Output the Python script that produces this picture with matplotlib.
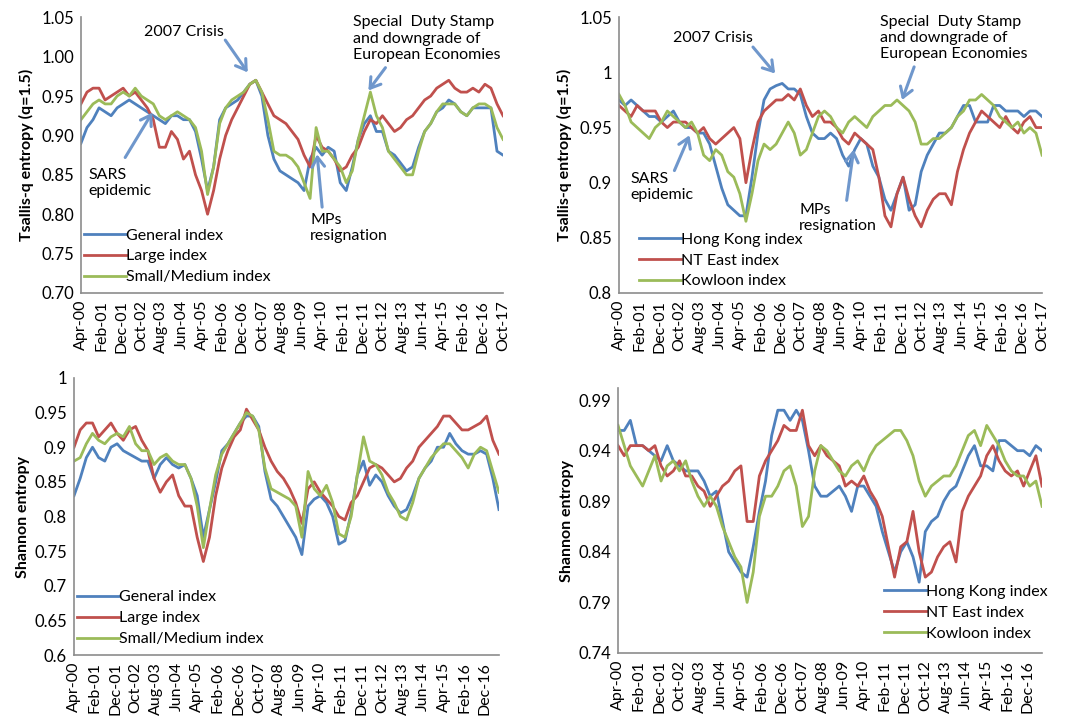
import numpy as np
import matplotlib
matplotlib.use("Agg")
import matplotlib.pyplot as plt
from matplotlib.ticker import FixedLocator, FuncFormatter

plt.rcParams['font.family'] = ['Lato', 'DejaVu Sans']

# months since Apr-2000, sampled every 3 months
months_top = np.arange(0, 211, 3)
months_bot = np.arange(0, 208, 3)

tick_pos = np.arange(0, 211, 10)
tick_labels = ['Apr-00', 'Feb-01', 'Dec-01', 'Oct-02', 'Aug-03', 'Jun-04', 'Apr-05',
               'Feb-06', 'Dec-06', 'Oct-07', 'Aug-08', 'Jun-09', 'Apr-10', 'Feb-11',
               'Dec-11', 'Oct-12', 'Aug-13', 'Jun-14', 'Apr-15', 'Feb-16', 'Dec-16', 'Oct-17']

# Tsallis-q entropy, territory-size indices
tsallis_general = [0.890, 0.910, 0.920, 0.935, 0.930, 0.925, 0.935, 0.940, 0.945, 0.940,
                   0.935, 0.930, 0.925, 0.920, 0.915, 0.925, 0.925, 0.920, 0.920, 0.905,
                   0.870, 0.830, 0.860, 0.920, 0.935, 0.940, 0.945, 0.955, 0.965, 0.970,
                   0.950, 0.900, 0.870, 0.855, 0.850, 0.845, 0.840, 0.830, 0.870, 0.885,
                   0.875, 0.885, 0.880, 0.840, 0.830, 0.860, 0.895, 0.915, 0.925, 0.905,
                   0.905, 0.880, 0.875, 0.865, 0.855, 0.860, 0.885, 0.905, 0.915, 0.930,
                   0.935, 0.945, 0.940, 0.930, 0.925, 0.935, 0.935, 0.935, 0.935, 0.880,
                   0.875]
tsallis_large = [0.940, 0.955, 0.960, 0.960, 0.945, 0.950, 0.955, 0.960, 0.950, 0.955,
                 0.945, 0.935, 0.920, 0.885, 0.885, 0.905, 0.895, 0.870, 0.880, 0.850,
                 0.830, 0.800, 0.830, 0.870, 0.900, 0.920, 0.935, 0.950, 0.965, 0.970,
                 0.955, 0.940, 0.925, 0.920, 0.915, 0.905, 0.895, 0.875, 0.860, 0.900,
                 0.885, 0.880, 0.870, 0.855, 0.860, 0.875, 0.885, 0.905, 0.920, 0.915,
                 0.925, 0.915, 0.905, 0.910, 0.920, 0.925, 0.935, 0.945, 0.950, 0.960,
                 0.965, 0.970, 0.960, 0.955, 0.955, 0.960, 0.955, 0.965, 0.960, 0.940,
                 0.925]
tsallis_small = [0.920, 0.930, 0.940, 0.945, 0.940, 0.940, 0.950, 0.955, 0.950, 0.960,
                 0.950, 0.945, 0.940, 0.925, 0.920, 0.925, 0.930, 0.925, 0.920, 0.910,
                 0.880, 0.825, 0.860, 0.915, 0.935, 0.945, 0.950, 0.955, 0.965, 0.970,
                 0.955, 0.920, 0.880, 0.875, 0.875, 0.870, 0.860, 0.840, 0.820, 0.910,
                 0.880, 0.880, 0.870, 0.860, 0.840, 0.855, 0.895, 0.925, 0.955, 0.925,
                 0.910, 0.880, 0.870, 0.860, 0.850, 0.850, 0.880, 0.905, 0.915, 0.930,
                 0.940, 0.940, 0.940, 0.930, 0.925, 0.935, 0.940, 0.940, 0.935, 0.910,
                 0.895]

# Tsallis-q entropy, regional indices
tsallis_hk = [0.975, 0.970, 0.975, 0.970, 0.965, 0.960, 0.960, 0.955, 0.960, 0.965,
              0.955, 0.950, 0.950, 0.945, 0.945, 0.935, 0.915, 0.895, 0.880, 0.875,
              0.870, 0.870, 0.905, 0.945, 0.975, 0.985, 0.988, 0.990, 0.985, 0.985,
              0.980, 0.960, 0.945, 0.940, 0.940, 0.945, 0.940, 0.925, 0.915, 0.930,
              0.940, 0.935, 0.915, 0.905, 0.885, 0.875, 0.890, 0.905, 0.875, 0.880,
              0.910, 0.925, 0.935, 0.945, 0.945, 0.950, 0.960, 0.970, 0.970, 0.955,
              0.955, 0.955, 0.970, 0.970, 0.965, 0.965, 0.965, 0.960, 0.965, 0.965,
              0.960]
tsallis_nte = [0.970, 0.965, 0.960, 0.970, 0.965, 0.965, 0.965, 0.955, 0.950, 0.955,
               0.955, 0.955, 0.950, 0.945, 0.950, 0.940, 0.935, 0.940, 0.945, 0.950,
               0.940, 0.900, 0.930, 0.955, 0.965, 0.970, 0.975, 0.975, 0.980, 0.975,
               0.985, 0.970, 0.960, 0.965, 0.955, 0.955, 0.950, 0.940, 0.935, 0.945,
               0.940, 0.935, 0.930, 0.905, 0.870, 0.860, 0.890, 0.905, 0.885, 0.870,
               0.860, 0.875, 0.885, 0.890, 0.890, 0.880, 0.910, 0.930, 0.945, 0.955,
               0.965, 0.960, 0.955, 0.950, 0.960, 0.950, 0.945, 0.955, 0.960, 0.950,
               0.950]
tsallis_kln = [0.980, 0.970, 0.955, 0.950, 0.945, 0.940, 0.950, 0.955, 0.965, 0.960,
               0.955, 0.950, 0.955, 0.945, 0.925, 0.920, 0.930, 0.925, 0.910, 0.905,
               0.890, 0.865, 0.890, 0.920, 0.935, 0.930, 0.935, 0.945, 0.955, 0.945,
               0.925, 0.930, 0.945, 0.960, 0.965, 0.960, 0.950, 0.945, 0.955, 0.960,
               0.955, 0.950, 0.960, 0.965, 0.970, 0.970, 0.975, 0.970, 0.965, 0.955,
               0.935, 0.935, 0.940, 0.940, 0.945, 0.950, 0.960, 0.965, 0.975, 0.975,
               0.980, 0.975, 0.970, 0.960, 0.955, 0.950, 0.955, 0.945, 0.950, 0.945,
               0.925]

# Shannon entropy, territory-size indices
shannon_general = [0.830, 0.855, 0.885, 0.900, 0.885, 0.880, 0.900, 0.905, 0.895, 0.890,
                   0.885, 0.880, 0.880, 0.855, 0.875, 0.885, 0.875, 0.870, 0.875, 0.855,
                   0.830, 0.770, 0.810, 0.850, 0.895, 0.905, 0.920, 0.935, 0.945, 0.945,
                   0.930, 0.865, 0.825, 0.815, 0.800, 0.785, 0.770, 0.745, 0.815, 0.825,
                   0.830, 0.820, 0.800, 0.760, 0.765, 0.805, 0.860, 0.880, 0.845, 0.860,
                   0.850, 0.830, 0.815, 0.805, 0.810, 0.830, 0.855, 0.870, 0.880, 0.900,
                   0.900, 0.920, 0.905, 0.895, 0.890, 0.890, 0.895, 0.890, 0.855, 0.810]
shannon_large = [0.900, 0.925, 0.935, 0.935, 0.915, 0.925, 0.935, 0.920, 0.910, 0.925,
                 0.930, 0.910, 0.895, 0.855, 0.835, 0.850, 0.860, 0.830, 0.815, 0.815,
                 0.770, 0.735, 0.770, 0.830, 0.870, 0.895, 0.915, 0.925, 0.955, 0.940,
                 0.925, 0.900, 0.880, 0.865, 0.855, 0.840, 0.820, 0.790, 0.840, 0.850,
                 0.835, 0.825, 0.815, 0.800, 0.795, 0.820, 0.830, 0.850, 0.870, 0.875,
                 0.870, 0.860, 0.850, 0.855, 0.870, 0.880, 0.900, 0.910, 0.920, 0.930,
                 0.945, 0.945, 0.935, 0.925, 0.925, 0.930, 0.935, 0.945, 0.910, 0.890]
shannon_small = [0.880, 0.885, 0.905, 0.920, 0.910, 0.905, 0.915, 0.920, 0.915, 0.930,
                 0.905, 0.895, 0.895, 0.875, 0.885, 0.890, 0.880, 0.875, 0.875, 0.855,
                 0.815, 0.755, 0.810, 0.860, 0.890, 0.905, 0.920, 0.935, 0.950, 0.945,
                 0.925, 0.870, 0.840, 0.835, 0.830, 0.825, 0.815, 0.770, 0.865, 0.840,
                 0.830, 0.845, 0.820, 0.775, 0.770, 0.800, 0.860, 0.915, 0.880, 0.875,
                 0.860, 0.835, 0.820, 0.800, 0.795, 0.820, 0.855, 0.870, 0.885, 0.895,
                 0.905, 0.905, 0.895, 0.885, 0.870, 0.890, 0.900, 0.895, 0.865, 0.835]

# Shannon entropy, regional indices
shannon_hk = [0.960, 0.960, 0.970, 0.945, 0.945, 0.940, 0.935, 0.930, 0.945, 0.930,
              0.925, 0.920, 0.920, 0.920, 0.910, 0.895, 0.900, 0.870, 0.840, 0.830,
              0.820, 0.815, 0.845, 0.880, 0.910, 0.955, 0.980, 0.980, 0.970, 0.980,
              0.970, 0.940, 0.905, 0.895, 0.895, 0.900, 0.905, 0.895, 0.880, 0.905,
              0.905, 0.895, 0.885, 0.860, 0.840, 0.820, 0.840, 0.850, 0.835, 0.810,
              0.860, 0.870, 0.875, 0.890, 0.900, 0.905, 0.920, 0.935, 0.945, 0.925,
              0.925, 0.920, 0.950, 0.950, 0.945, 0.940, 0.940, 0.935, 0.945, 0.940]
shannon_nte = [0.945, 0.935, 0.945, 0.945, 0.945, 0.940, 0.945, 0.925, 0.915, 0.920,
               0.930, 0.915, 0.915, 0.905, 0.900, 0.885, 0.895, 0.905, 0.910, 0.920,
               0.925, 0.870, 0.870, 0.915, 0.930, 0.940, 0.950, 0.965, 0.960, 0.960,
               0.980, 0.945, 0.935, 0.945, 0.935, 0.930, 0.925, 0.905, 0.910, 0.905,
               0.915, 0.900, 0.890, 0.875, 0.845, 0.815, 0.845, 0.850, 0.880, 0.840,
               0.815, 0.820, 0.835, 0.845, 0.850, 0.830, 0.880, 0.895, 0.905, 0.915,
               0.935, 0.945, 0.930, 0.920, 0.915, 0.920, 0.905, 0.920, 0.935, 0.905]
shannon_kln = [0.965, 0.945, 0.925, 0.915, 0.905, 0.920, 0.935, 0.910, 0.925, 0.930,
               0.920, 0.930, 0.910, 0.895, 0.885, 0.895, 0.885, 0.865, 0.850, 0.835,
               0.825, 0.790, 0.820, 0.875, 0.895, 0.895, 0.905, 0.920, 0.925, 0.905,
               0.865, 0.875, 0.920, 0.945, 0.940, 0.930, 0.920, 0.915, 0.925, 0.930,
               0.920, 0.935, 0.945, 0.950, 0.955, 0.960, 0.960, 0.950, 0.935, 0.910,
               0.895, 0.905, 0.910, 0.915, 0.915, 0.925, 0.940, 0.955, 0.960, 0.945,
               0.965, 0.955, 0.945, 0.930, 0.920, 0.915, 0.915, 0.905, 0.910, 0.885]

BLUE = '#4F81BD'
RED = '#C0504D'
GREEN = '#9BBB59'
ARROW = '#6F97CC'
SPINE = '#8C8C8C'
FS = 11.5


def style_axis(ax, xmax, n_ticks, yticks, ylim, fmt):
    ax.set_xlim(0, xmax)
    ax.set_ylim(*ylim)
    for s in ['top', 'right']:
        ax.spines[s].set_visible(False)
    for s in ['left', 'bottom']:
        ax.spines[s].set_color(SPINE)
        ax.spines[s].set_linewidth(1.2)
    ax.xaxis.set_major_locator(FixedLocator(tick_pos[:n_ticks]))
    ax.set_xticklabels(tick_labels[:n_ticks], rotation=90)
    ax.yaxis.set_major_locator(FixedLocator(yticks))
    ax.yaxis.set_major_formatter(FuncFormatter(fmt))
    ax.tick_params(axis='y', length=0, labelsize=FS + 0.5, pad=5)
    ax.tick_params(axis='x', length=0, labelsize=FS, pad=5)


def add_legend(ax, anchor):
    ax.legend(loc='lower left', bbox_to_anchor=anchor, frameon=False, fontsize=FS,
              handlelength=2.6, handletextpad=0.0, labelspacing=0.42, borderpad=0.2,
              borderaxespad=0.0)


def note(ax, text, pos, tail, tip, ha='left', va='center'):
    ax.text(pos[0], pos[1], text, fontsize=FS, ha=ha, va=va, linespacing=1.2)
    ax.annotate('', xy=tip, xytext=tail,
                arrowprops=dict(arrowstyle='->,head_length=0.7,head_width=0.45',
                                color=ARROW, lw=2.2, shrinkA=0, shrinkB=0))


fig = plt.figure(figsize=(10.68, 7.19), dpi=100)
ax1 = fig.add_axes([0.0758, 0.5925, 0.3952, 0.3835])
ax2 = fig.add_axes([0.5796, 0.5925, 0.3961, 0.3835])
ax3 = fig.add_axes([0.0693, 0.0890, 0.3979, 0.3853])
ax4 = fig.add_axes([0.5787, 0.0918, 0.3970, 0.3686])

lw = 2.0

# top-left
ax1.plot(months_top, tsallis_general, color=BLUE, lw=lw, label='General index')
ax1.plot(months_top, tsallis_large, color=RED, lw=lw, label='Large index')
ax1.plot(months_top, tsallis_small, color=GREEN, lw=lw, label='Small/Medium index')
style_axis(ax1, 210, 22, np.arange(0.70, 1.051, 0.05), (0.70, 1.05), lambda v, p: f'{v:.2f}')
ax1.set_ylabel('Tsallis-q entropy (q=1.5)', fontsize=11.5, fontweight='bold', labelpad=5)
add_legend(ax1, (0.0, 0.02))
note(ax1, '2007 Crisis', (51, 1.031), (71.8, 1.021), (83, 0.980), ha='center')
note(ax1, 'SARS\nepidemic', (3.5, 0.840), (22, 0.872), (35.5, 0.929))
note(ax1, 'MPs\nresignation', (114, 0.783), (120, 0.809), (117.5, 0.876))
note(ax1, 'Special  Duty Stamp\nand downgrade of\nEuropean Economies', (135.5, 1.023),
     (151.5, 0.986), (143, 0.957))

# top-right
ax2.plot(months_top, tsallis_hk, color=BLUE, lw=lw, label='Hong Kong index')
ax2.plot(months_top, tsallis_nte, color=RED, lw=lw, label='NT East index')
ax2.plot(months_top, tsallis_kln, color=GREEN, lw=lw, label='Kowloon index')
style_axis(ax2, 210, 22, np.arange(0.80, 1.051, 0.05), (0.80, 1.05), lambda v, p: f'{v:g}')
ax2.set_ylabel('Tsallis-q entropy (q=1.5)', fontsize=11.5, fontweight='bold', labelpad=5)
add_legend(ax2, (0.04, 0.005))
note(ax2, '2007 Crisis', (46.5, 1.031), (66.5, 1.023), (77.5, 0.999), ha='center')
note(ax2, 'SARS\nepidemic', (5.5, 0.896), (27.5, 0.911), (35, 0.943))
note(ax2, 'MPs\nresignation', (89.5, 0.868), (113, 0.884), (116.5, 0.930))
note(ax2, 'Special  Duty Stamp\nand downgrade of\nEuropean Economies', (129.5, 1.031),
     (146.5, 1.005), (140.5, 0.975))

# bottom-left
ax3.plot(months_bot, shannon_general, color=BLUE, lw=lw, label='General index')
ax3.plot(months_bot, shannon_large, color=RED, lw=lw, label='Large index')
ax3.plot(months_bot, shannon_small, color=GREEN, lw=lw, label='Small/Medium index')
style_axis(ax3, 207, 21, np.arange(0.60, 1.001, 0.05), (0.60, 1.0), lambda v, p: f'{v:g}')
ax3.set_ylabel('Shannon entropy', fontsize=11.5, fontweight='bold', labelpad=3)
add_legend(ax3, (0.0, 0.02))

# bottom-right
ax4.plot(months_bot, shannon_hk, color=BLUE, lw=lw, label='Hong Kong index')
ax4.plot(months_bot, shannon_nte, color=RED, lw=lw, label='NT East index')
ax4.plot(months_bot, shannon_kln, color=GREEN, lw=lw, label='Kowloon index')
style_axis(ax4, 207, 21, np.arange(0.74, 0.991, 0.05), (0.74, 1.002), lambda v, p: f'{v:.2f}')
ax4.set_ylabel('Shannon entropy', fontsize=11.5, fontweight='bold', labelpad=3)
add_legend(ax4, (0.62, 0.035))

fig.savefig('out.png', dpi=100)
